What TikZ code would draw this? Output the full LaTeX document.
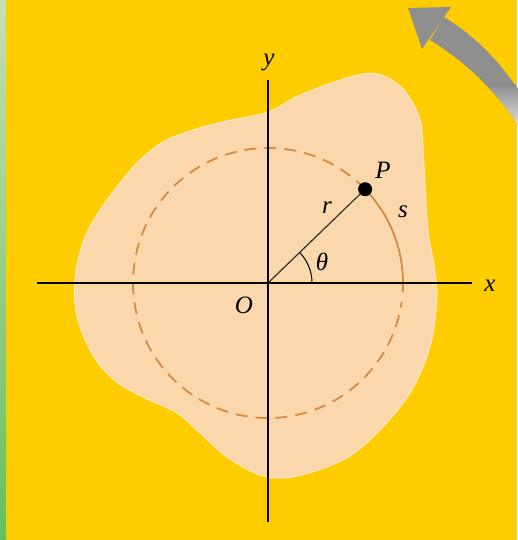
\documentclass[tikz,border=0pt]{standalone}
\usepackage{fontspec}
\setmainfont{Liberation Serif}
\usetikzlibrary{calc}
\definecolor{bgyellow}{RGB}{255,204,0}
\definecolor{blobc}{RGB}{250,216,172}
\definecolor{circc}{RGB}{210,140,68}
\definecolor{arrowgray}{RGB}{143,143,143}
\definecolor{arrowlight}{RGB}{228,228,228}
\definecolor{greentop}{RGB}{200,222,176}
\definecolor{greenbot}{RGB}{104,190,92}
\begin{document}
\begin{tikzpicture}[x=1pt,y=-1pt,
  lab/.style={font=\fontsize{25}{29}\selectfont\itshape, inner sep=0pt},
  axisline/.style={line width=1.6, black},
  circline/.style={circc, line width=1.8}]
\useasboundingbox (0,0) rectangle (517,540);
\fill[bgyellow] (0,0) rectangle (517,540);
\shade[top color=greentop, bottom color=greenbot] (0,0) rectangle (6,540);
% region
\fill[blobc, draw=white!55!blobc, line width=0.8] plot[smooth cycle, tension=0.55] coordinates {
 (268,112) (300,95) (350,77) (378,74) (403,89) (420,120) (424,165) (428,230)
 (434,265) (437,298) (430,347) (410,393) (377,433) (343,460) (293,477) (260,475)
 (227,457) (200,433) (177,413) (143,397) (118,383) (98,363) (83,335) (75,305)
 (76,270) (85,237) (100,210) (120,183) (140,160) (163,142) (190,131) (222,122)};
% curved arrow
\path[fill=arrowgray] (444,17) .. controls (472,34) and (497,58) .. (520,92) -- (520,128) .. controls (497,92) and (466,62) .. (430,40) -- cycle;
\begin{scope}
\clip (444,17) .. controls (472,34) and (497,58) .. (520,92) -- (520,128) .. controls (497,92) and (466,62) .. (430,40) -- cycle;
\shade[top color=arrowgray, bottom color=arrowlight] (470,85) rectangle (520,128);
\end{scope}
\fill[arrowgray] (408,8) -- (451,7) -- (422,49) -- cycle;
% geometry
\coordinate (O) at (268,283);
\coordinate (xl) at (37,283);
\coordinate (xr) at (472,283);
\coordinate (yt) at (268,80);
\coordinate (yb) at (268,522);
\draw[circline, dash pattern=on 12pt off 8pt] (O) ++(-44:135) arc[start angle=-44, end angle=-352, radius=135];
\draw[circline] (O) ++(4:135) arc[start angle=4, end angle=-44, radius=135];
\draw[axisline] (xl) -- (xr);
\draw[axisline] (yt) -- (yb);
\coordinate (Pc) at ($(O)+(-44:135)$);
\draw[line width=1.1, black!85] (O) -- (Pc);
\draw[line width=1] (O) ++(0:44) arc[start angle=0, end angle=-44, radius=44];
\node[circle, fill=black, inner sep=0pt, minimum size=14pt] (P) at (Pc) {};
% labels
\node[lab] (xlab) at (490,286) {x};
\node[lab] (ylab) at (269,62) {y};
\node[lab] (Olab) at (244,305) {O};
\node[lab] (Plab) at (383,170) {P};
\node[lab] (rlab) at (327,208) {r};
\node[lab] (slab) at (403,212) {s};
\node[lab] (tlab) at (322,262) {θ};
\end{tikzpicture}
\end{document}
